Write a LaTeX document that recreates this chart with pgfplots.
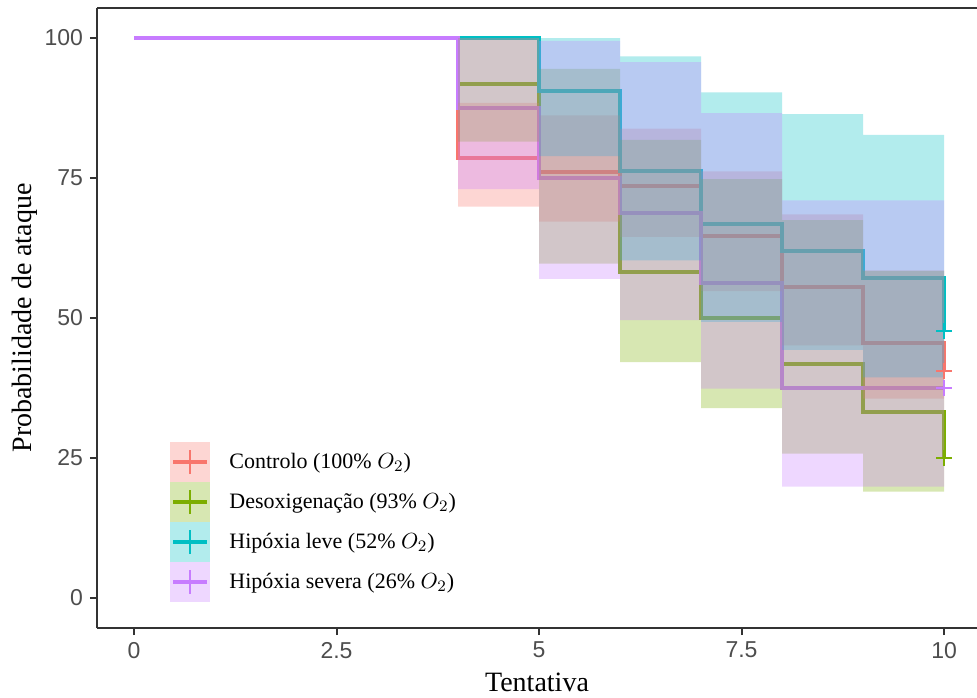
\documentclass[border=0pt]{standalone}
\usepackage{pgfplots}
\pgfplotsset{compat=1.18}
\usepackage{fontspec}
\setmainfont{Liberation Serif}
\newfontfamily\ticksans{Liberation Sans}
\usetikzlibrary{calc}
\definecolor{cR}{HTML}{F8766D}
\definecolor{cG}{HTML}{7CAE00}
\definecolor{cT}{HTML}{00BFC4}
\definecolor{cP}{HTML}{C77CFF}
\definecolor{axgray}{HTML}{333333}
\definecolor{tickgray}{HTML}{4D4D4D}
\newcommand{\legimg}[1]{%
  \path[draw=none, fill=#1, fill opacity=0.3] (0pt,-10pt) rectangle (20pt,10pt);
  \path[draw=#1, fill=none, line width=2pt] (1.5pt,0pt) -- (18.5pt,0pt);
  \path[draw=#1, fill=none, line width=1pt] (10pt,-6pt) -- (10pt,6pt);}
\begin{document}
\begin{tikzpicture}
\begin{axis}[
  name=ax,
  scale only axis,
  width=440pt, height=310pt,
  xmin=-0.457, xmax=10.407,
  ymin=-5.36, ymax=105.36,
  axis x line*=box, axis y line*=left,
  axis line style={-, draw=axgray, line width=1pt},
  xtick pos=lower, ytick pos=left,
  tick align=outside,
  major tick length=3.5pt,
  tick style={draw=axgray, line width=1pt},
  xtick={0,2.5,5,7.5,10},
  ytick={0,25,50,75,100},
  /pgf/number format/assume math mode=true,
  ticklabel style={font=\ticksans\fontsize{11.5}{13}\selectfont, text=tickgray},
  xlabel={Tentativa},
  ylabel={Probabilidade de ataque},
  xlabel style={font=\fontsize{14}{16}\selectfont, at={(axis description cs:0.5,-0.1032)}, anchor=base},
  ylabel style={font=\fontsize{14}{16}\selectfont, at={(axis description cs:-0.075,0.5)}, anchor=base},
  legend style={at={(axis description cs:0.083,0.3006)}, anchor=north west, draw=none, fill=none,
    inner sep=0pt, row sep=0pt, font=\fontsize{11}{13}\selectfont, nodes={inner sep=0pt},
    /tikz/every odd column/.append style={column sep=9.5pt}},
  legend cell align=left,
]
% step lines
\addplot[cR, line width=2pt, const plot, legend image code/.code={\legimg{cR}}]
  coordinates {(0,100)(4,78.6)(5,76.0)(6,73.5)(7,64.6)(8,55.6)(9,45.6)(10,45.6)(10,40.6)};
\addlegendentry{Controlo (100\% $O_2$)}
\addplot[cG, line width=2pt, const plot, legend image code/.code={\legimg{cG}}]
  coordinates {(0,100)(4,91.7)(5,75)(6,58.3)(7,50)(8,41.7)(9,33.3)(10,33.3)(10,25)};
\addlegendentry{Desoxigenação (93\% $O_2$)}
\addplot[cT, line width=2pt, const plot, legend image code/.code={\legimg{cT}}]
  coordinates {(0,100)(5,90.5)(6,76.2)(7,66.7)(8,61.9)(9,57.1)(10,57.1)(10,47.6)};
\addlegendentry{Hipóxia leve (52\% $O_2$)}
\addplot[cP, line width=2pt, const plot, legend image code/.code={\legimg{cP}}]
  coordinates {(0,100)(4,87.5)(5,75)(6,68.75)(7,56.25)(8,37.5)(10,37.5)};
\addlegendentry{Hipóxia severa (26\% $O_2$)}
% confidence bands
\addplot[forget plot, draw=none, fill=cR, fill opacity=0.3] coordinates {
  (4,88.4)(5,88.4)(5,86.2)(6,86.2)(6,83.8)(7,83.8)(7,76.2)(8,76.2)(8,68.5)(9,68.5)(9,58.5)(10,58.5)
  (10,35.6)(9,35.6)(9,45.1)(8,45.1)(8,54.8)(7,54.8)(7,64.5)(6,64.5)(6,67.2)(5,67.2)(5,69.9)(4,69.9)};
\addplot[forget plot, draw=none, fill=cG, fill opacity=0.3] coordinates {
  (4,100)(5,100)(5,94.5)(6,94.5)(6,81.8)(7,81.8)(7,74.8)(8,74.8)(8,67.5)(9,67.5)(9,58.4)(10,58.4)
  (10,19.0)(9,19.0)(9,25.8)(8,25.8)(8,33.9)(7,33.9)(7,42.1)(6,42.1)(6,59.7)(5,59.7)(5,81.5)(4,81.5)};
\addplot[forget plot, draw=none, fill=cT, fill opacity=0.3] coordinates {
  (5,100)(6,100)(6,96.7)(7,96.7)(7,90.3)(8,90.3)(8,86.4)(9,86.4)(9,82.7)(10,82.7)
  (10,39.4)(9,39.4)(9,44.3)(8,44.3)(8,49.3)(7,49.3)(7,60.3)(6,60.3)(6,78.9)(5,78.9)};
\addplot[forget plot, draw=none, fill=cP, fill opacity=0.3] coordinates {
  (4,100)(5,100)(5,99.5)(6,99.5)(6,95.7)(7,95.7)(7,86.6)(8,86.6)(8,71.0)(10,71.0)
  (10,19.9)(8,19.9)(8,37.4)(7,37.4)(7,49.6)(6,49.6)(6,57.0)(5,57.0)(5,73.0)(4,73.0)};
% censoring marks
\addplot[forget plot, only marks, mark=+, mark size=4pt, cR, line width=1pt] coordinates {(10,40.6)};
\addplot[forget plot, only marks, mark=+, mark size=4pt, cG, line width=1pt] coordinates {(10,25)};
\addplot[forget plot, only marks, mark=+, mark size=4pt, cT, line width=1pt] coordinates {(10,47.6)};
\addplot[forget plot, only marks, mark=+, mark size=4pt, cP, line width=1pt] coordinates {(10,37.5)};
\end{axis}
\pgfresetboundingbox
\path ($(ax.south west)+(-48.5pt,-34.5pt)$) rectangle ($(ax.north east)+(0pt,4pt)$);
\end{tikzpicture}
\end{document}
